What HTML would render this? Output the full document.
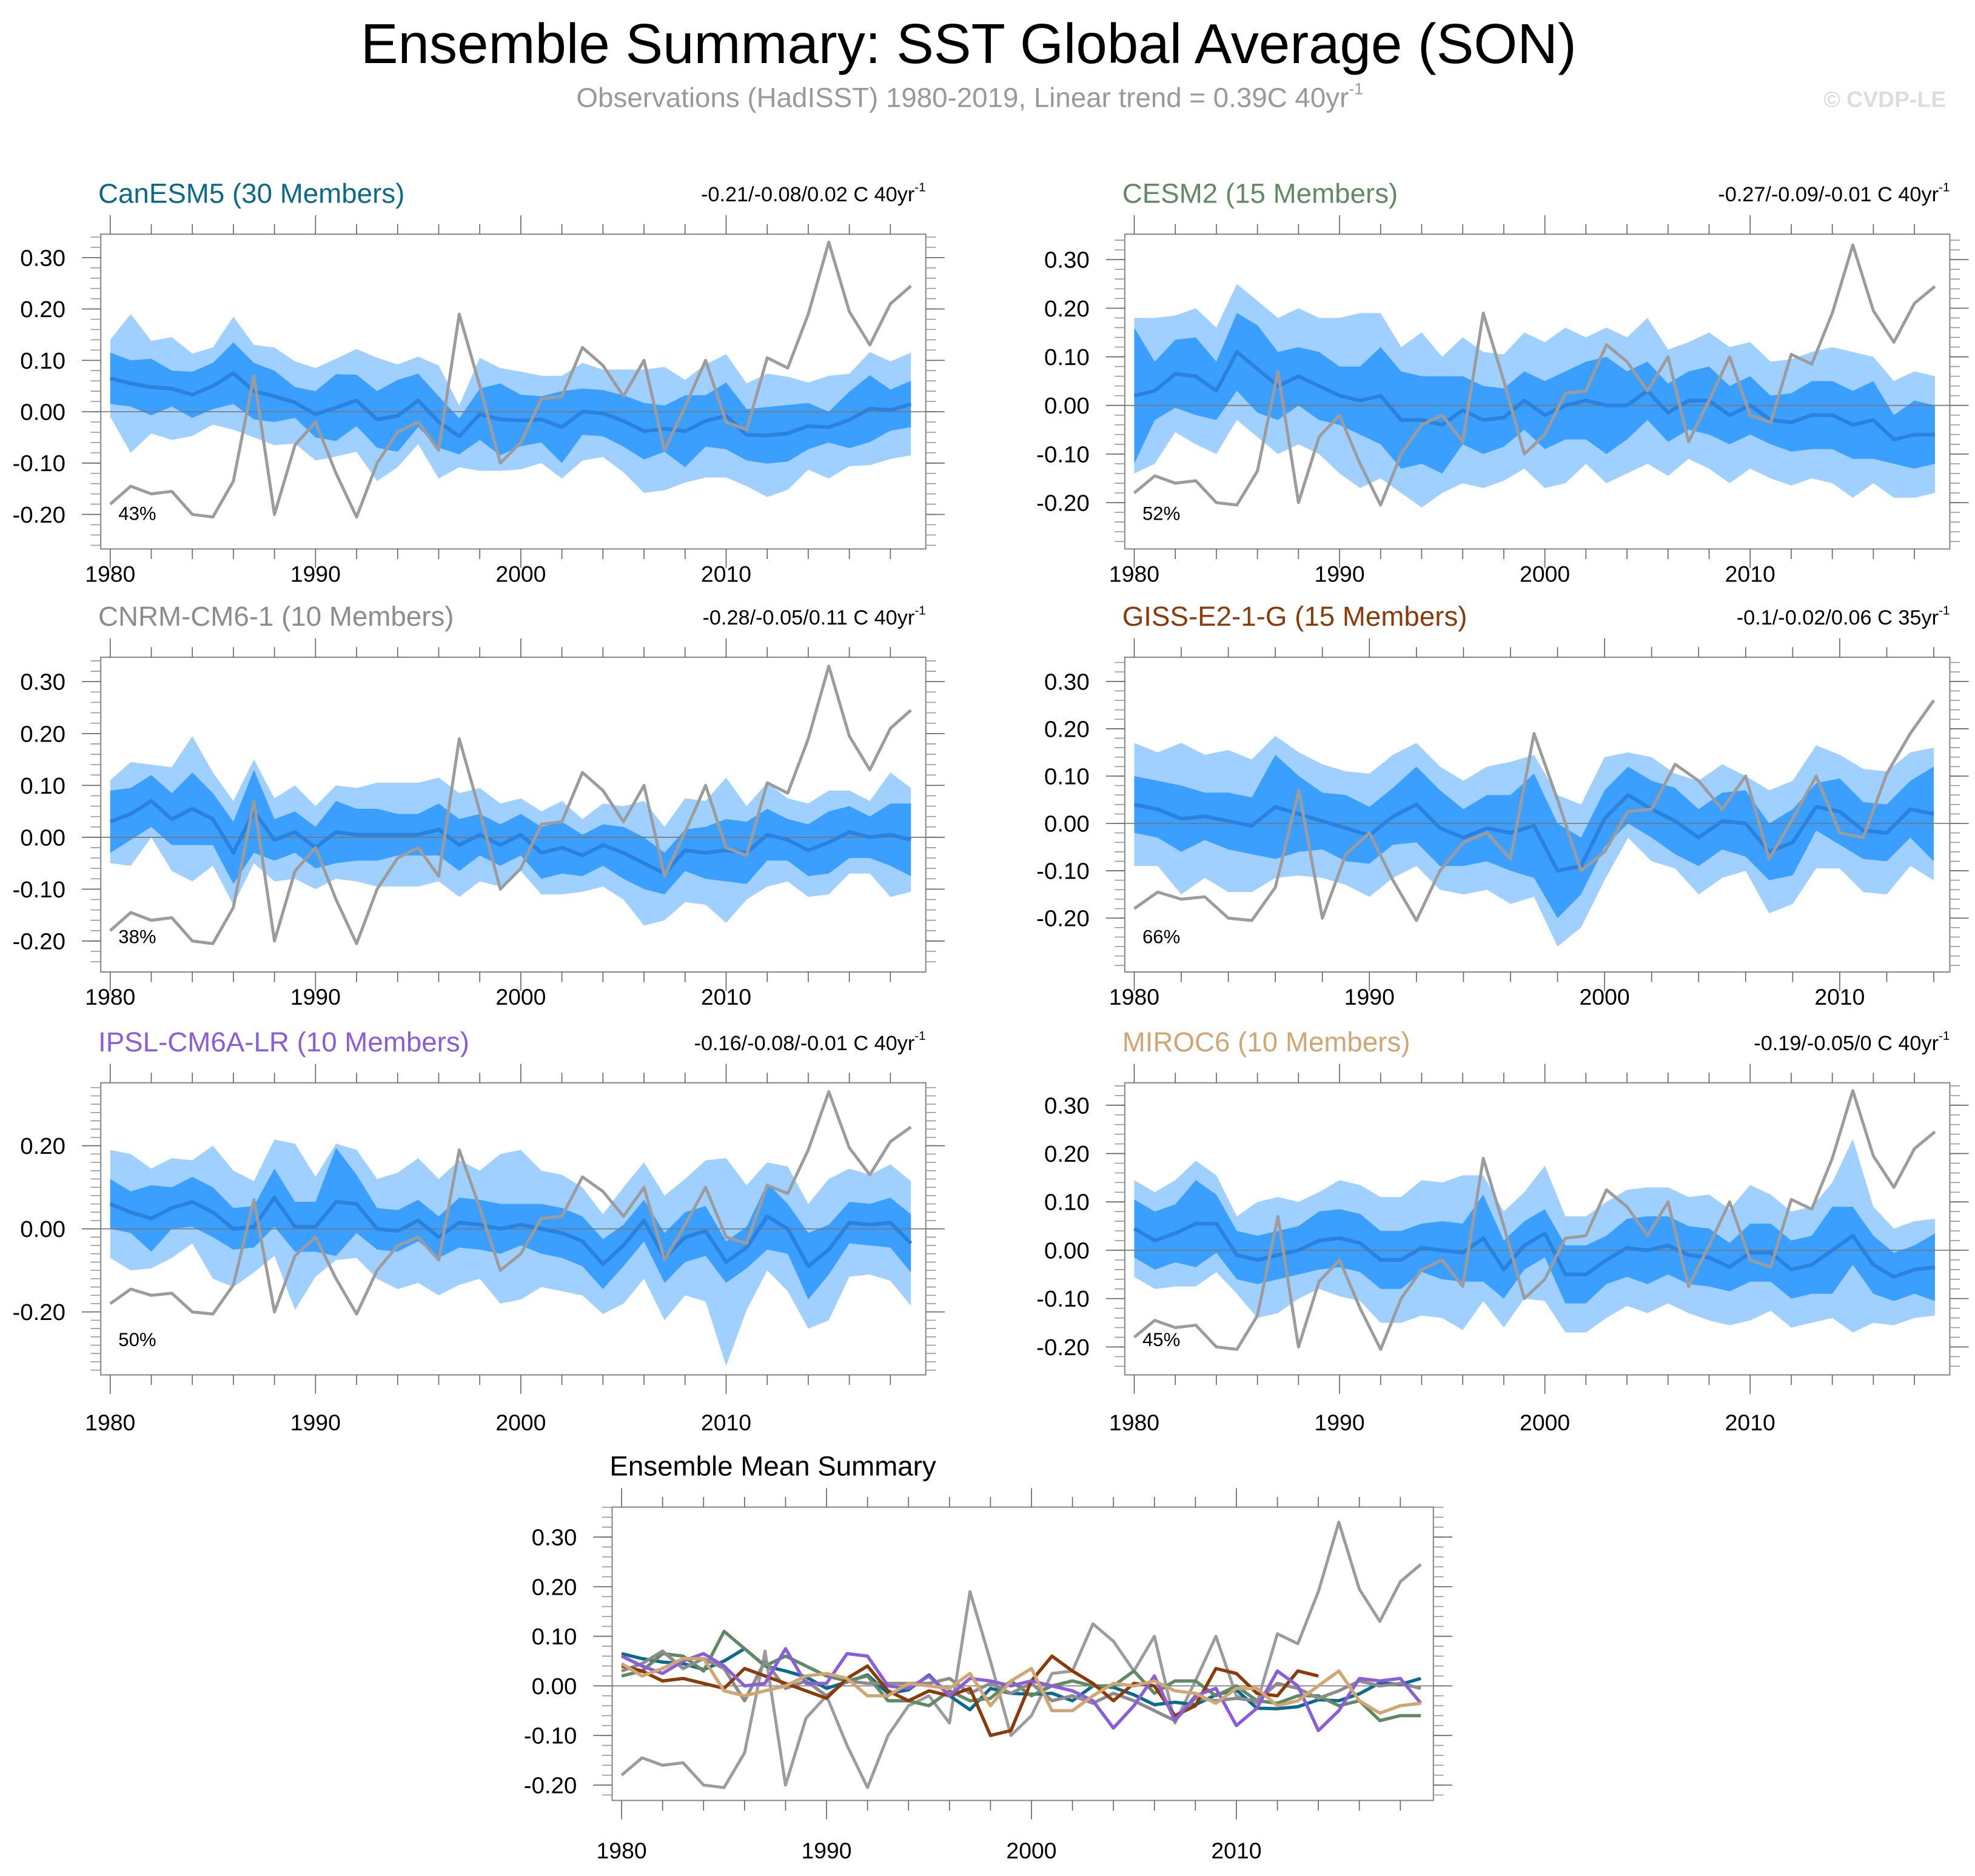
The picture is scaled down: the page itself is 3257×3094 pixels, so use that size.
<!DOCTYPE html>
<html><head><meta charset="utf-8"><style>
html,body{margin:0;padding:0;background:#fff;}
svg{display:block;font-family:"Liberation Sans",sans-serif;}
</style></head><body>
<svg id="chart" width="3257" height="3094" viewBox="0 0 1568 1490" preserveAspectRatio="none" xmlns="http://www.w3.org/2000/svg">
<text x="769" y="50" font-size="44.5" text-anchor="middle" fill="#000">Ensemble Summary: SST Global Average (SON)</text>
<text x="770" y="85" font-size="22" text-anchor="middle" fill="#999">Observations (HadISST) 1980-2019, Linear trend = 0.39C 40yr<tspan font-size="13" dy="-10">-1</tspan></text>
<text x="1545" y="85" font-size="18" font-weight="bold" text-anchor="end" fill="#ddd">© CVDP-LE</text>
<text x="484" y="1172" font-size="22" fill="#000">Ensemble Mean Summary</text>
</svg>
<script>
const years = [1980,1981,1982,1983,1984,1985,1986,1987,1988,1989,1990,1991,1992,1993,1994,1995,1996,1997,1998,1999,2000,2001,2002,2003,2004,2005,2006,2007,2008,2009,2010,2011,2012,2013,2014,2015,2016,2017,2018,2019];
const obs = [-0.18,-0.145,-0.16,-0.155,-0.2,-0.205,-0.135,0.07,-0.2,-0.065,-0.02,-0.12,-0.205,-0.1,-0.04,-0.02,-0.075,0.19,0.05,-0.1,-0.06,0.025,0.03,0.125,0.09,0.03,0.1,-0.075,0.01,0.1,-0.02,-0.035,0.105,0.085,0.19,0.33,0.195,0.13,0.21,0.245];
const obsGiss = [-0.18,-0.145,-0.16,-0.155,-0.2,-0.205,-0.135,0.07,-0.2,-0.065,-0.02,-0.12,-0.205,-0.1,-0.04,-0.02,-0.075,0.19,0.05,-0.1,-0.06,0.025,0.03,0.125,0.09,0.03,0.1,-0.075,0.01,0.1,-0.02,-0.03,0.105,0.19,0.26];
const meanCan = [0.065,0.055,0.048,0.045,0.033,0.05,0.075,0.04,0.03,0.018,-0.005,0.008,0.022,-0.015,-0.008,0.022,-0.02,-0.048,-0.005,-0.015,-0.017,-0.015,-0.03,0,-0.003,-0.018,-0.038,-0.033,-0.038,-0.018,-0.008,-0.045,-0.046,-0.042,-0.028,-0.03,-0.016,0.006,0.003,0.015];
const inCan = [0.05,0.045,0.055,0.035,0.045,0.045,0.06,0.055,0.05,0.03,0.045,0.065,0.05,0.055,0.07,0.052,0.05,0.035,0.05,0.07,0.05,0.045,0.07,0.045,0.045,0.05,0.055,0.045,0.07,0.05,0.065,0.05,0.055,0.055,0.045,0.03,0.055,0.065,0.04,0.045];
const outCan = [0.075,0.135,0.09,0.1,0.08,0.075,0.11,0.09,0.095,0.08,0.09,0.095,0.1,0.12,0.1,0.085,0.11,0.06,0.11,0.1,0.095,0.085,0.1,0.095,0.085,0.1,0.12,0.12,0.1,0.11,0.12,0.1,0.12,0.11,0.085,0.1,0.09,0.11,0.095,0.1];
const meanCesm = [0.02,0.03,0.065,0.06,0.03,0.11,0.075,0.04,0.06,0.04,0.02,0.01,0.02,-0.03,-0.03,-0.04,-0.01,-0.03,-0.025,0.01,-0.02,0.0,0.01,0.0,0.0,0.03,-0.015,0.01,0.01,-0.02,0.0,-0.03,-0.035,-0.02,-0.02,-0.04,-0.03,-0.07,-0.06,-0.06];
const inCesm = [0.14,0.06,0.07,0.08,0.06,0.08,0.09,0.07,0.06,0.07,0.06,0.07,0.1,0.1,0.09,0.1,0.07,0.07,0.06,0.06,0.07,0.07,0.08,0.1,0.07,0.06,0.06,0.06,0.07,0.06,0.06,0.05,0.06,0.07,0.07,0.07,0.08,0.05,0.07,0.06];
const outCesm = [0.16,0.15,0.12,0.14,0.13,0.14,0.14,0.14,0.14,0.14,0.16,0.18,0.17,0.15,0.18,0.14,0.15,0.14,0.13,0.14,0.15,0.16,0.13,0.16,0.14,0.15,0.13,0.12,0.14,0.14,0.13,0.12,0.13,0.13,0.14,0.15,0.13,0.12,0.13,0.12];
const meanCnrm = [0.03,0.045,0.07,0.035,0.055,0.035,-0.03,0.05,-0.005,0.01,-0.02,0.01,0.005,0.005,0.005,0.005,0.015,-0.015,0.005,-0.015,0.005,-0.03,-0.02,-0.035,-0.015,-0.03,-0.05,-0.07,-0.025,-0.03,-0.025,-0.03,0.005,-0.005,-0.025,-0.01,0.01,0.0,0.005,-0.005];
const inCnrm = [0.06,0.05,0.05,0.05,0.07,0.05,0.06,0.08,0.04,0.04,0.04,0.06,0.05,0.05,0.04,0.04,0.05,0.05,0.04,0.04,0.04,0.05,0.05,0.04,0.04,0.05,0.05,0.04,0.04,0.05,0.06,0.06,0.05,0.04,0.05,0.06,0.05,0.04,0.06,0.07];
const outCnrm = [0.08,0.1,0.07,0.1,0.14,0.09,0.1,0.1,0.08,0.09,0.08,0.09,0.09,0.1,0.1,0.1,0.1,0.1,0.09,0.08,0.07,0.08,0.09,0.07,0.08,0.09,0.12,0.09,0.1,0.1,0.14,0.09,0.1,0.08,0.09,0.1,0.08,0.07,0.12,0.1];
const meanGiss = [0.04,0.03,0.01,0.015,0.005,-0.005,0.035,0.02,0.005,-0.01,-0.025,0.015,0.04,-0.01,-0.03,-0.01,-0.02,-0.005,-0.1,-0.09,0.01,0.06,0.03,0.005,-0.03,0.005,0.0,-0.06,-0.04,0.035,0.025,-0.015,-0.02,0.03,0.02];
const inGiss = [0.06,0.06,0.07,0.05,0.06,0.06,0.11,0.08,0.06,0.07,0.06,0.06,0.08,0.08,0.06,0.07,0.08,0.11,0.1,0.06,0.06,0.06,0.06,0.07,0.06,0.06,0.07,0.06,0.07,0.05,0.07,0.06,0.06,0.06,0.1];
const outGiss = [0.13,0.12,0.16,0.13,0.15,0.14,0.15,0.13,0.12,0.12,0.13,0.13,0.13,0.13,0.12,0.13,0.15,0.15,0.16,0.13,0.13,0.09,0.11,0.1,0.12,0.12,0.1,0.13,0.13,0.13,0.12,0.13,0.13,0.12,0.14];
const meanIpsl = [0.06,0.04,0.025,0.05,0.065,0.04,0.0,0.005,0.075,0.005,0.005,0.065,0.06,0.0,-0.005,0.02,-0.02,0.015,0.01,0.0,0.01,0.0,-0.01,-0.03,-0.085,-0.04,0.02,-0.07,-0.02,-0.005,-0.08,-0.045,0.03,0.0,-0.09,-0.05,0.015,0.01,0.015,-0.035];
const inIpsl = [0.06,0.05,0.08,0.05,0.06,0.06,0.05,0.05,0.07,0.06,0.06,0.13,0.07,0.05,0.05,0.05,0.05,0.06,0.06,0.06,0.05,0.06,0.06,0.06,0.06,0.05,0.05,0.06,0.06,0.06,0.05,0.05,0.08,0.06,0.08,0.06,0.05,0.05,0.06,0.07];
const outIpsl = [0.13,0.14,0.12,0.12,0.1,0.16,0.14,0.11,0.14,0.2,0.12,0.14,0.13,0.12,0.14,0.15,0.14,0.15,0.13,0.18,0.18,0.14,0.14,0.13,0.12,0.14,0.14,0.15,0.14,0.17,0.25,0.15,0.13,0.15,0.15,0.17,0.13,0.12,0.14,0.15];
const meanMiroc = [0.045,0.02,0.035,0.055,0.055,-0.01,-0.02,-0.01,0.0,0.02,0.025,0.015,-0.02,-0.02,0.005,0.0,-0.005,0.025,-0.04,0.01,0.035,-0.05,-0.05,-0.02,0.005,0.0,0.01,-0.01,-0.015,-0.035,-0.005,-0.005,-0.04,-0.03,0.0,0.03,-0.03,-0.055,-0.04,-0.035];
const inMiroc = [0.06,0.06,0.06,0.09,0.06,0.05,0.05,0.05,0.05,0.06,0.06,0.06,0.06,0.06,0.05,0.06,0.06,0.09,0.06,0.05,0.05,0.06,0.06,0.05,0.06,0.07,0.06,0.06,0.06,0.05,0.06,0.06,0.06,0.06,0.09,0.06,0.06,0.05,0.05,0.07];
const outMiroc = [0.1,0.1,0.11,0.13,0.1,0.08,0.12,0.12,0.1,0.1,0.12,0.12,0.13,0.13,0.14,0.14,0.16,0.13,0.12,0.11,0.14,0.12,0.12,0.12,0.12,0.13,0.12,0.12,0.13,0.12,0.14,0.12,0.12,0.12,0.14,0.2,0.12,0.1,0.1,0.1];
const tickVals6 = [-0.2,-0.1,0,0.1,0.2,0.3];
const tickLabels6 = ["-0.20","-0.10","0.00","0.10","0.20","0.30"];
const tickVals3 = [-0.2,0,0.2];
const tickLabels3 = ["-0.20","0.00","0.20"];
const yearTicks = [1980,1990,2000,2010];

const NS='http://www.w3.org/2000/svg';
const svg=document.getElementById('chart');
function mk(tag,attrs,parent){const e=document.createElementNS(NS,tag);for(const k in attrs)e.setAttribute(k,attrs[k]);(parent||svg).appendChild(e);return e;}

const panels=[
 {name:'canesm5',title:'CanESM5 (30 Members)',color:'#0b6a8c',trend:'-0.21/-0.08/0.02 C 40yr',x0:80,y0:186,w:655,h:250,zy:327,py:408,px:16.3,n:40,mean:meanCan,inn:inCan,out:outCan,pct:'43%',t:tickVals6,tl:tickLabels6,ob:obs,xo:26},
 {name:'cesm2',title:'CESM2 (15 Members)',color:'#5f8a64',trend:'-0.27/-0.09/-0.01 C 40yr',x0:893,y0:186,w:655,h:250,zy:322,py:386,px:16.3,n:40,mean:meanCesm,inn:inCesm,out:outCesm,pct:'52%',t:tickVals6,tl:tickLabels6,ob:obs,xo:26},
 {name:'cnrm-cm6-1',title:'CNRM-CM6-1 (10 Members)',color:'#8c8c8c',trend:'-0.28/-0.05/0.11 C 40yr',x0:80,y0:522,w:655,h:250,zy:665,py:412,px:16.3,n:40,mean:meanCnrm,inn:inCnrm,out:outCnrm,pct:'38%',t:tickVals6,tl:tickLabels6,ob:obs,xo:26},
 {name:'giss-e2-1-g',title:'GISS-E2-1-G (15 Members)',color:'#8b3a0a',trend:'-0.1/-0.02/0.06 C 35yr',x0:893,y0:522,w:655,h:250,zy:654,py:376,px:18.67,n:35,mean:meanGiss,inn:inGiss,out:outGiss,pct:'66%',t:tickVals6,tl:tickLabels6,ob:obsGiss,xo:26},
 {name:'ipsl-cm6a-lr',title:'IPSL-CM6A-LR (10 Members)',color:'#8a5ed8',trend:'-0.16/-0.08/-0.01 C 40yr',x0:80,y0:860,w:655,h:232,zy:976,py:330,px:16.3,n:40,mean:meanIpsl,inn:inIpsl,out:outIpsl,pct:'50%',t:tickVals3,tl:tickLabels3,ob:obs,xo:44},
 {name:'miroc6',title:'MIROC6 (10 Members)',color:'#cfa674',trend:'-0.19/-0.05/0 C 40yr',x0:893,y0:860,w:655,h:232,zy:993,py:384,px:16.3,n:40,mean:meanMiroc,inn:inMiroc,out:outMiroc,pct:'45%',t:tickVals6,tl:tickLabels6,ob:obs,xo:44}
];

function axes(p){
  const X=y=>p.x0+7.5+(y-1980)*p.px;
  const Y=v=>p.zy-v*p.py;
  return {X,Y};
}
function frame(p,g){
  const {X,Y}=axes(p);
  mk('rect',{x:p.x0,y:p.y0,width:p.w,height:p.h,fill:'#fff',stroke:'none'},g);
  return {X,Y};
}
function decorate(p,g,X,Y){
  const b=p.y0+p.h, r=p.x0+p.w;
  mk('rect',{x:p.x0,y:p.y0,width:p.w,height:p.h,fill:'none',stroke:'#888','stroke-width':1},g);
  const yrEnd=1980+(p.w-7.5)/p.px;
  for(let yr=1980;yr<=yrEnd;yr+=2){
    const maj=(yr%10===0), L=maj?15:8;
    mk('line',{x1:X(yr),x2:X(yr),y1:b,y2:b+L,stroke:'#666','stroke-width':0.8},g);
    mk('line',{x1:X(yr),x2:X(yr),y1:p.y0,y2:p.y0-L,stroke:'#666','stroke-width':0.8},g);
  }
  yearTicks.forEach(yr=>{
    const t=mk('text',{x:X(yr),y:b+p.xo,'font-size':18,'text-anchor':'middle',fill:'#000'},g);
    
    
    t.textContent=yr;
  });
  const lo=(p.zy-b)/p.py, hi=(p.zy-p.y0)/p.py;
  for(let v=Math.ceil(lo*50)/50; v<=hi; v+=0.02){
    const yy=Y(v);
    mk('line',{x1:p.x0,x2:p.x0-8,y1:yy,y2:yy,stroke:'#999','stroke-width':0.8},g);
    mk('line',{x1:r,x2:r+8,y1:yy,y2:yy,stroke:'#999','stroke-width':0.8},g);
  }
  p.t.forEach((v,i)=>{
    const yy=Y(v);
    mk('line',{x1:p.x0,x2:p.x0-15,y1:yy,y2:yy,stroke:'#666','stroke-width':0.8},g);
    mk('line',{x1:r,x2:r+15,y1:yy,y2:yy,stroke:'#666','stroke-width':0.8},g);
    const t=mk('text',{x:p.x0-28,y:yy+6.5,'font-size':18.5,'text-anchor':'end',fill:'#000'},g);
    
    
    t.textContent=p.tl[i];
  });
}
function lineD(arr,n,X,Y){return arr.slice(0,n).map((v,i)=>(i?'L':'M')+X(years[i]).toFixed(2)+','+Y(v).toFixed(2)).join(' ');}
function bandD(mean,sp,n,X,Y){
  const up=mean.slice(0,n).map((v,i)=>X(years[i]).toFixed(2)+','+Y(v+sp[i]).toFixed(2));
  const dn=mean.slice(0,n).map((v,i)=>X(years[i]).toFixed(2)+','+Y(v-sp[i]).toFixed(2)).reverse();
  return 'M'+up.join(' L')+' L'+dn.join(' L')+' Z';
}

panels.forEach(p=>{
  const g=mk('g',{});
  
  
  const {X,Y}=frame(p,g);
  const ob=mk('path',{d:bandD(p.mean,p.out,p.n,X,Y),fill:'#a0d0ff'},g);
  
  
  const ib=mk('path',{d:bandD(p.mean,p.inn,p.n,X,Y),fill:'#3a9fff'},g);
  
  
  mk('line',{x1:p.x0,x2:p.x0+p.w,y1:Y(0),y2:Y(0),stroke:'#777','stroke-width':0.8},g);
  const ml=mk('path',{d:lineD(p.mean,p.n,X,Y),fill:'none',stroke:'#2a82dc','stroke-width':3,'stroke-linejoin':'round'},g);
  
  
  const ol=mk('path',{d:lineD(p.ob,p.n,X,Y),fill:'none',stroke:'#9c9c9c','stroke-width':2.4,'stroke-linejoin':'round'},g);
  
  
  decorate(p,g,X,Y);
  const pt=mk('text',{x:p.x0+14,y:p.y0+p.h-23,'font-size':15,fill:'#000'},g);
  
  
  pt.textContent=p.pct;
  const tt=mk('text',{x:p.x0-2,y:p.y0-25,'font-size':22,fill:p.color},g);
  
  
  tt.textContent=p.title;
  const tr=mk('text',{x:p.x0+p.w,y:p.y0-26,'font-size':16.5,'text-anchor':'end',fill:'#000'},g);
  
  
  tr.textContent=p.trend;
  const sup=mk('tspan',{'font-size':10,dy:-8},tr);
  sup.textContent='-1';
});

// Ensemble mean summary
const sp={x0:486,y0:1197,w:652,h:233,zy:1339,py:394,px:16.27,t:tickVals6,tl:tickLabels6,xo:46};
const sg=mk('g',{});


const S=frame(sp,sg);
mk('line',{x1:sp.x0,x2:sp.x0+sp.w,y1:S.Y(0),y2:S.Y(0),stroke:'#777','stroke-width':0.8},sg);
const so=mk('path',{d:lineD(obs,40,S.X,S.Y),fill:'none',stroke:'#9c9c9c','stroke-width':2.4,'stroke-linejoin':'round'},sg);


panels.forEach(p=>{
  const l=mk('path',{d:lineD(p.mean,p.n,S.X,S.Y),fill:'none',stroke:p.color,'stroke-width':2.6,'stroke-linejoin':'round'},sg);
  
  
});
decorate(sp,sg,S.X,S.Y);
</script>
</body></html>
